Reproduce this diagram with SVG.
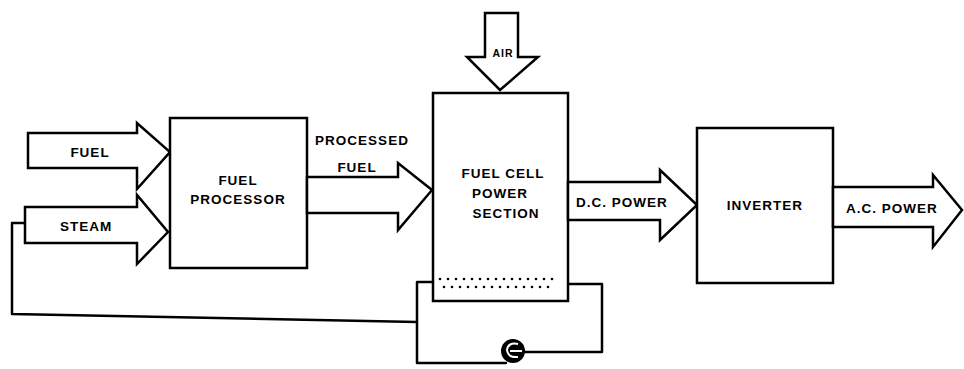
<svg xmlns="http://www.w3.org/2000/svg" width="964" height="369" viewBox="0 0 964 369">
<style>
.s{fill:none;stroke:#000;stroke-width:2.5;stroke-linejoin:round;stroke-linecap:round}
.f{fill:#fff;stroke:#000;stroke-width:2.5;stroke-linejoin:miter}
.t{font-family:"Liberation Sans",Arial,sans-serif;font-weight:bold;font-size:13.5px;letter-spacing:1px;fill:#000;text-anchor:middle}
.d{fill:#000}
</style>
<rect width="964" height="369" fill="#fff"/>
<g id="connectors">
<polyline class="s" points="26,223 12,223 12,314 417,322"/>
<g id="loop">
<polyline class="s" points="437,282 417,282 417,363 506,363"/>
<polyline class="s" points="557,284 602,284 602,352 524,352"/>
</g>
</g>
<g id="fuel">
<path class="f" d="M28,133 L137,133 L137,123 L170,152 L137,189 L137,168 L28,168 Z"/>
<text class="t" x="90" y="157">FUEL</text>
</g>
<g id="steam">
<path class="f" d="M25,207 L137,207 L137,195 L168,232 L137,264 L137,243 L25,243 Z"/>
<text class="t" x="86" y="231">STEAM</text>
</g>
<g id="fuel-processor">
<rect class="f" x="170" y="118" width="137" height="150"/>
<text class="t" x="238" y="185">FUEL</text>
<text class="t" x="238" y="204">PROCESSOR</text>
</g>
<g id="processed-fuel">
<path class="f" d="M307,177 L398,177 L398,163 L432,190 L398,230 L398,213 L307,213 Z"/>
<text class="t" x="362" y="145">PROCESSED</text>
<text class="t" x="357" y="172">FUEL</text>
</g>
<g id="air">
<path class="f" d="M485,13 L518,13 L518,57 L538,57 L500,90 L467,57 L485,57 Z"/>
<text class="t" x="503" y="57" style="font-size:10.5px;letter-spacing:1px">AIR</text>
</g>
<g id="fuel-cell">
<rect class="f" x="433" y="93" width="135" height="208"/>
<text class="t" x="503" y="178">FUEL CELL</text>
<text class="t" x="500" y="198">POWER</text>
<text class="t" x="506" y="218">SECTION</text>
<g class="d">
<circle cx="440" cy="279" r="1.3"/><circle cx="448" cy="279" r="1.3"/><circle cx="456" cy="279" r="1.3"/><circle cx="464" cy="279" r="1.3"/><circle cx="472" cy="279" r="1.3"/><circle cx="480" cy="279" r="1.3"/><circle cx="488" cy="279" r="1.3"/><circle cx="496" cy="279" r="1.3"/><circle cx="504" cy="279" r="1.3"/><circle cx="512" cy="279" r="1.3"/><circle cx="520" cy="279" r="1.3"/><circle cx="528" cy="279" r="1.3"/><circle cx="536" cy="279" r="1.3"/><circle cx="544" cy="279" r="1.3"/><circle cx="552" cy="279" r="1.3"/>
<circle cx="444" cy="287" r="1.3"/><circle cx="452" cy="287" r="1.3"/><circle cx="460" cy="287" r="1.3"/><circle cx="468" cy="287" r="1.3"/><circle cx="476" cy="287" r="1.3"/><circle cx="484" cy="287" r="1.3"/><circle cx="492" cy="287" r="1.3"/><circle cx="500" cy="287" r="1.3"/><circle cx="508" cy="287" r="1.3"/><circle cx="516" cy="287" r="1.3"/><circle cx="524" cy="287" r="1.3"/><circle cx="532" cy="287" r="1.3"/><circle cx="540" cy="287" r="1.3"/><circle cx="548" cy="287" r="1.3"/>
</g>
</g>
<g id="pump">
<circle cx="513" cy="351" r="12" fill="#000"/>
<path d="M518,344 Q508,342 507,350 Q508,358 518,357 M510,351 L522,351" fill="none" stroke="#fff" stroke-width="2"/>
</g>
<g id="dc-power">
<path class="f" d="M568,182 L660,182 L660,170 L697,205 L660,240 L660,220 L568,220 Z"/>
<text class="t" x="622" y="207">D.C. POWER</text>
</g>
<g id="inverter">
<rect class="f" x="697" y="128" width="136" height="155"/>
<text class="t" x="765" y="210">INVERTER</text>
</g>
<g id="ac-power">
<path class="f" d="M833,187 L933,187 L933,175 L962,210 L933,247 L933,227 L833,227 Z"/>
<text class="t" x="892" y="213">A.C. POWER</text>
</g>
</svg>
